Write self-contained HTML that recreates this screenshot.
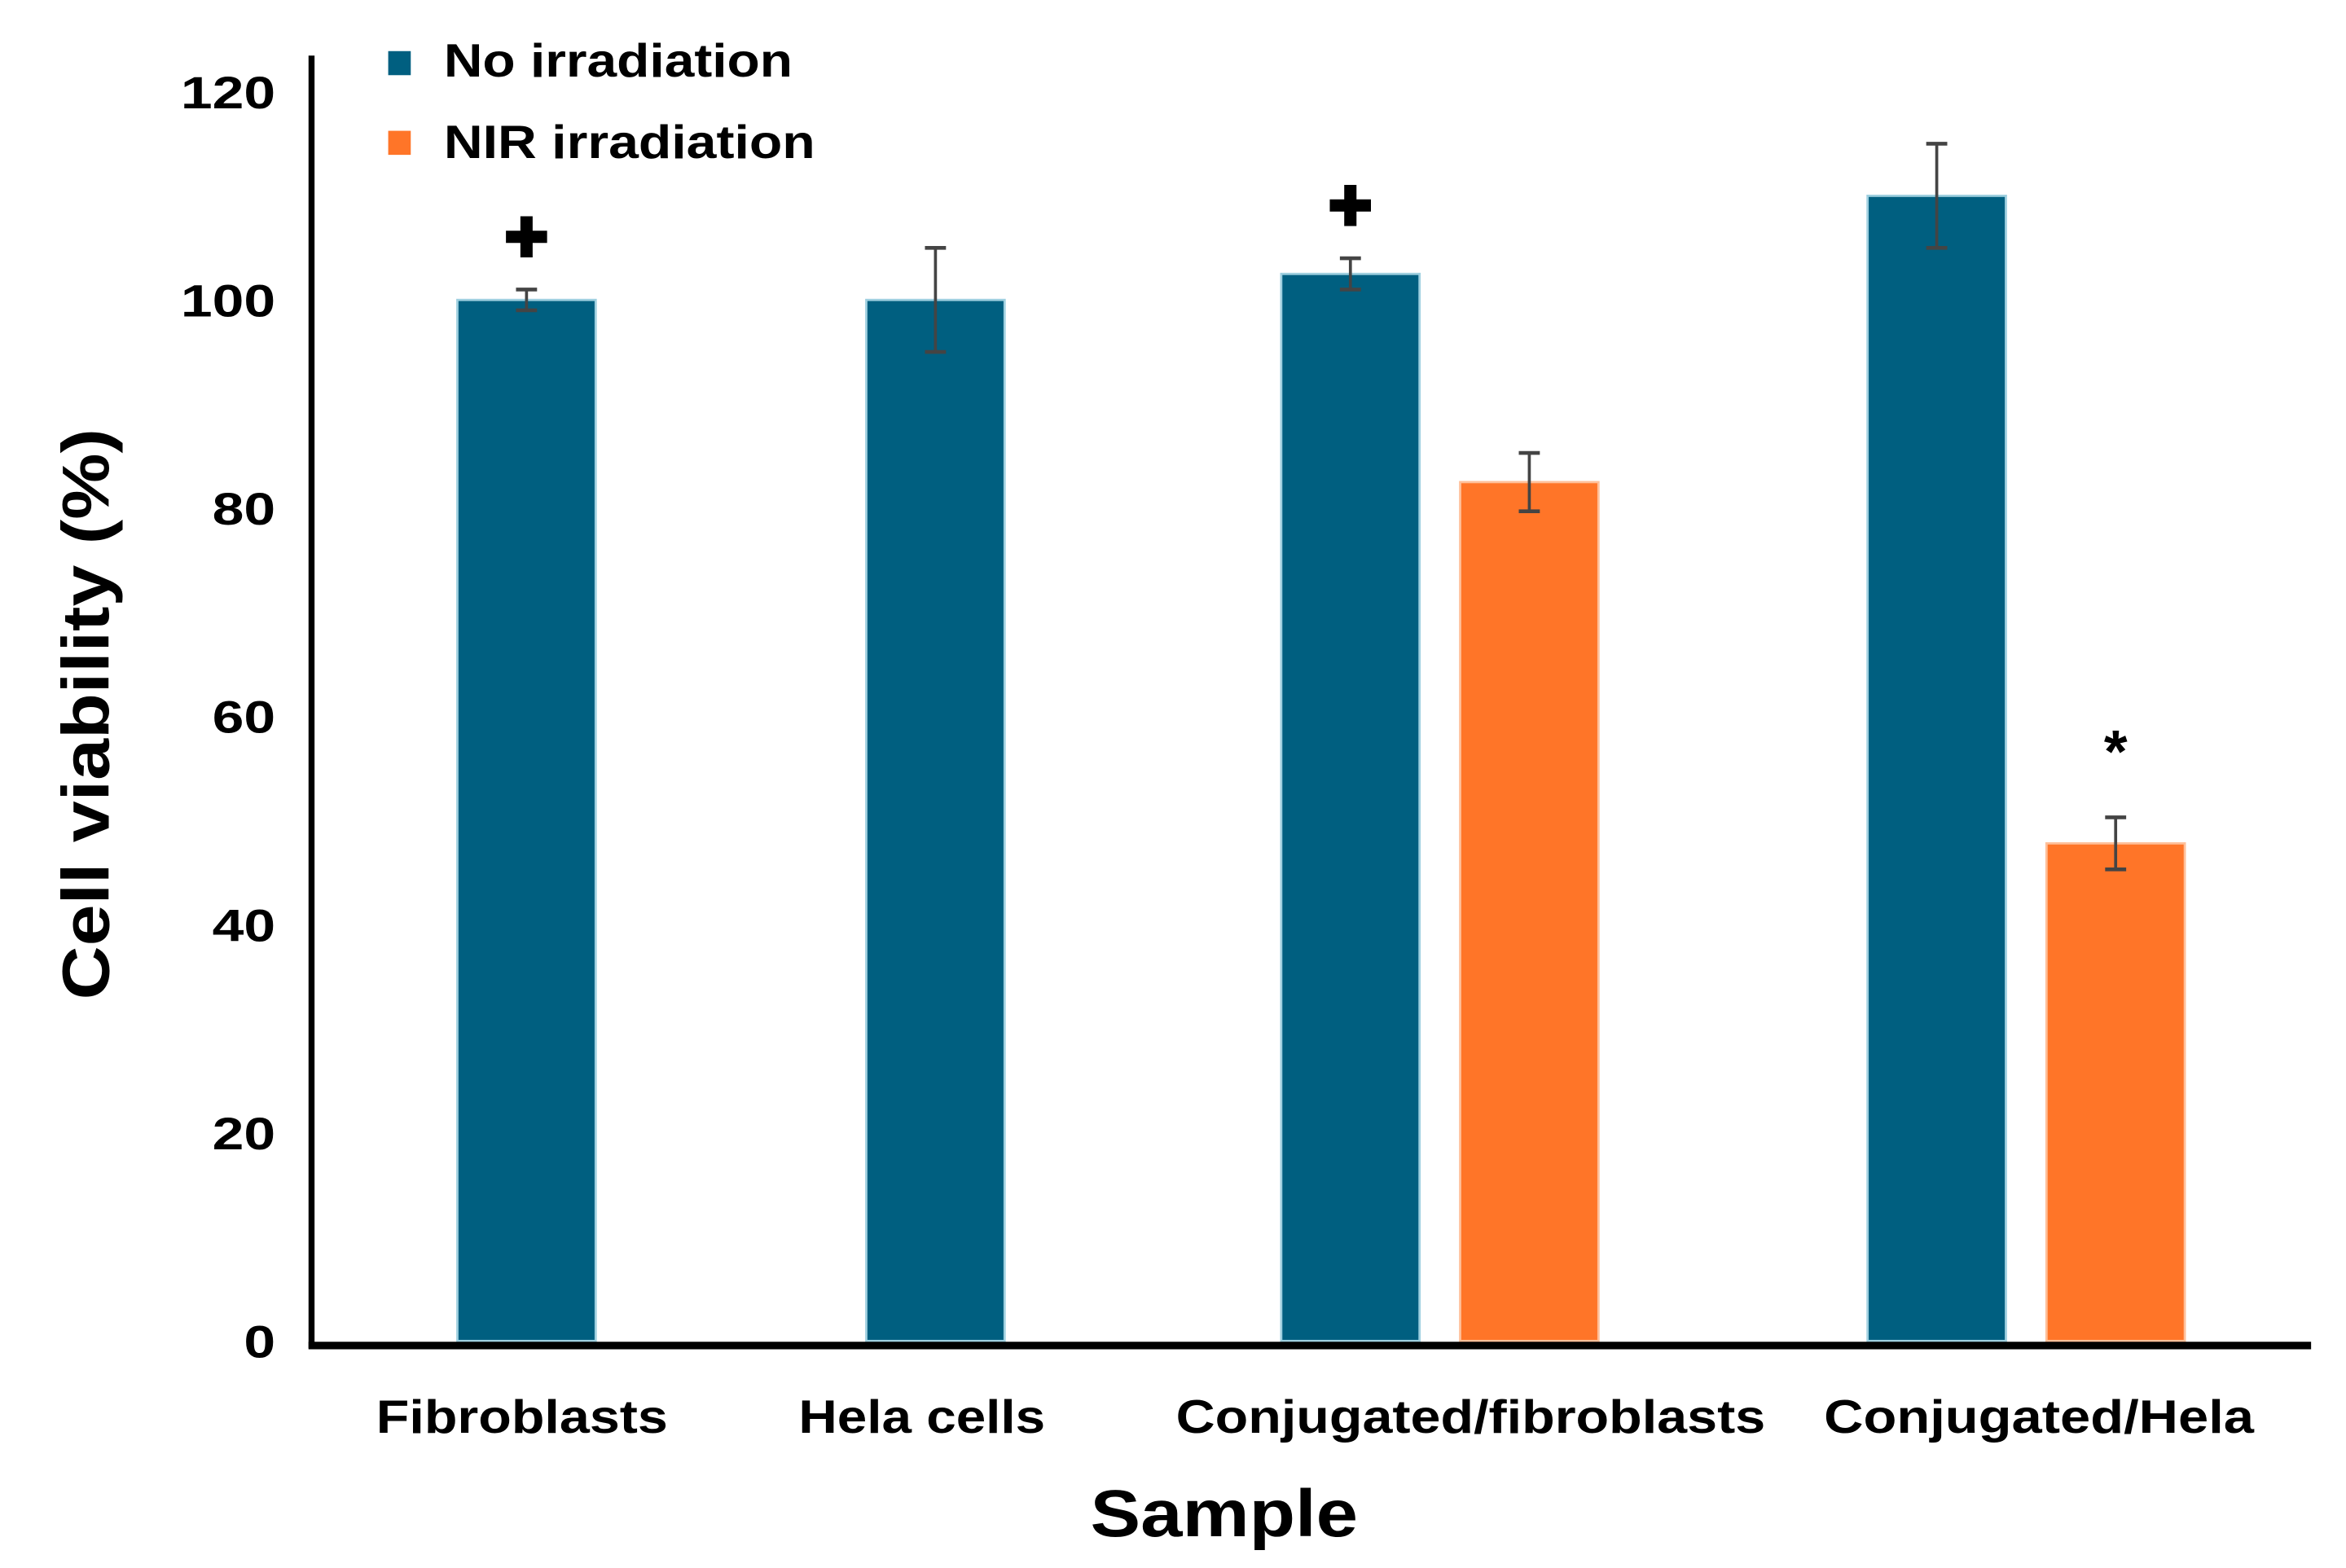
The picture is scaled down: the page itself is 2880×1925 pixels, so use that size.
<!DOCTYPE html>
<html><head><meta charset="utf-8"><style>
html,body{margin:0;padding:0;background:#fff;}
svg{display:block;font-family:"Liberation Sans",Arial,sans-serif;font-weight:bold;}
</style></head><body>
<svg id="chart" width="2880" height="1925" viewBox="0 0 1560 1043" xmlns="http://www.w3.org/2000/svg">
<g id="bars"></g>
<g id="errs"></g>
<g id="yticks"></g>
<g id="xlabels"></g>
<line x1="207" y1="37" x2="207" y2="897" stroke="#000" stroke-width="4"/>
<line x1="205" y1="895" x2="1537" y2="895" stroke="#000" stroke-width="5"/>
<text transform="translate(72,475) rotate(-90)" text-anchor="middle" font-size="44" textLength="380" lengthAdjust="spacingAndGlyphs">Cell viability (%)</text>
<text x="814" y="1022" text-anchor="middle" font-size="44" textLength="178" lengthAdjust="spacingAndGlyphs">Sample</text>
<g>
<rect x="258" y="34" width="15" height="16" fill="#005f80"/>
<text x="295" y="51" font-size="31" textLength="232" lengthAdjust="spacingAndGlyphs">No irradiation</text>
<rect x="258" y="87" width="15" height="16" fill="#ff7528"/>
<text x="295" y="105" font-size="31" textLength="247" lengthAdjust="spacingAndGlyphs">NIR irradiation</text>
</g>
<g id="marks"></g>
</svg>
<script>
const categories = ["Fibroblasts","Hela cells","Conjugated/fibroblasts","Conjugated/Hela"];
const noIrr = [100, 100, 102.5, 110];
const noIrrErr = [1, 5, 1.5, 5];
const nirIrr = [null, null, 82.5, 47.8];
const nirIrrErr = [null, null, 2.8, 2.5];
const yTicks = [0,20,40,60,80,100,120];
const markers = ["+", null, "+", null];
const nirMarkers = [null, null, null, "*"];

const NS = "http://www.w3.org/2000/svg";
function y(v){ return 892 - v*6.925; }
const catCenter = [350, 622, 958, 1348];
const labelX = [347,613,978,1356];
const labelW = [194,164,392,286];
function xBlue(i){ return nirIrr[i]==null ? catCenter[i]-46 : catCenter[i]-106; }
function xOr(i){ return catCenter[i]+13; }
const BW = 92;
function mk(tag, attrs, parent){ const e=document.createElementNS(NS,tag); for(const k in attrs) e.setAttribute(k,attrs[k]); parent.appendChild(e); return e; }
const gb=document.getElementById('bars'), ge=document.getElementById('errs'), gt=document.getElementById('yticks'), gx=document.getElementById('xlabels'), gm=document.getElementById('marks');
function err(cx, v, e){
  const g=mk('g',{},ge);
  
  
  mk('line',{x1:cx,x2:cx,y1:y(v+e),y2:y(v-e),stroke:'#444','stroke-width':2},g);
  mk('line',{x1:cx-7,x2:cx+7,y1:y(v+e),y2:y(v+e),stroke:'#444','stroke-width':2.5},g);
  mk('line',{x1:cx-7,x2:cx+7,y1:y(v-e),y2:y(v-e),stroke:'#444','stroke-width':2.5},g);
}
categories.forEach((c,i)=>{
  const b=mk('rect',{x:xBlue(i),y:y(noIrr[i]),width:BW,height:y(0)-y(noIrr[i]),fill:'#005f80',stroke:'#9fd0e0','stroke-width':1.5},gb);
  
  
  err(xBlue(i)+BW/2, noIrr[i], noIrrErr[i]);
  if(markers[i]){
    const t=mk('text',{x:xBlue(i)+BW/2,y:y(noIrr[i]+noIrrErr[i])-22,'text-anchor':'middle','font-size':36},gm);
    t.textContent='✚';
    
    
  }
  if(nirIrr[i]!=null){
    const o=mk('rect',{x:xOr(i),y:y(nirIrr[i]),width:BW,height:y(0)-y(nirIrr[i]),fill:'#ff7528',stroke:'#ffc09a','stroke-width':1.5},gb);
    
    
    err(xOr(i)+BW/2, nirIrr[i], nirIrrErr[i]);
    if(nirMarkers[i]){
      const t=mk('text',{x:xOr(i)+BW/2,y:y(nirIrr[i]+nirIrrErr[i])-30,'text-anchor':'middle','font-size':40},gm);
      t.textContent=nirMarkers[i];
      
      
    }
  }
  const l=mk('text',{x:labelX[i],y:953,'text-anchor':'middle','font-size':31,textLength:labelW[i],lengthAdjust:'spacingAndGlyphs'},gx);
  l.textContent=c;
  
  
});
yTicks.forEach(v=>{
  const w = String(v).length*21;
  const t=mk('text',{x:183,y:y(v)+11,'text-anchor':'end','font-size':30,textLength:w,lengthAdjust:'spacingAndGlyphs'},gt);
  t.textContent=v;
  
  
});
</script>
</body></html>
